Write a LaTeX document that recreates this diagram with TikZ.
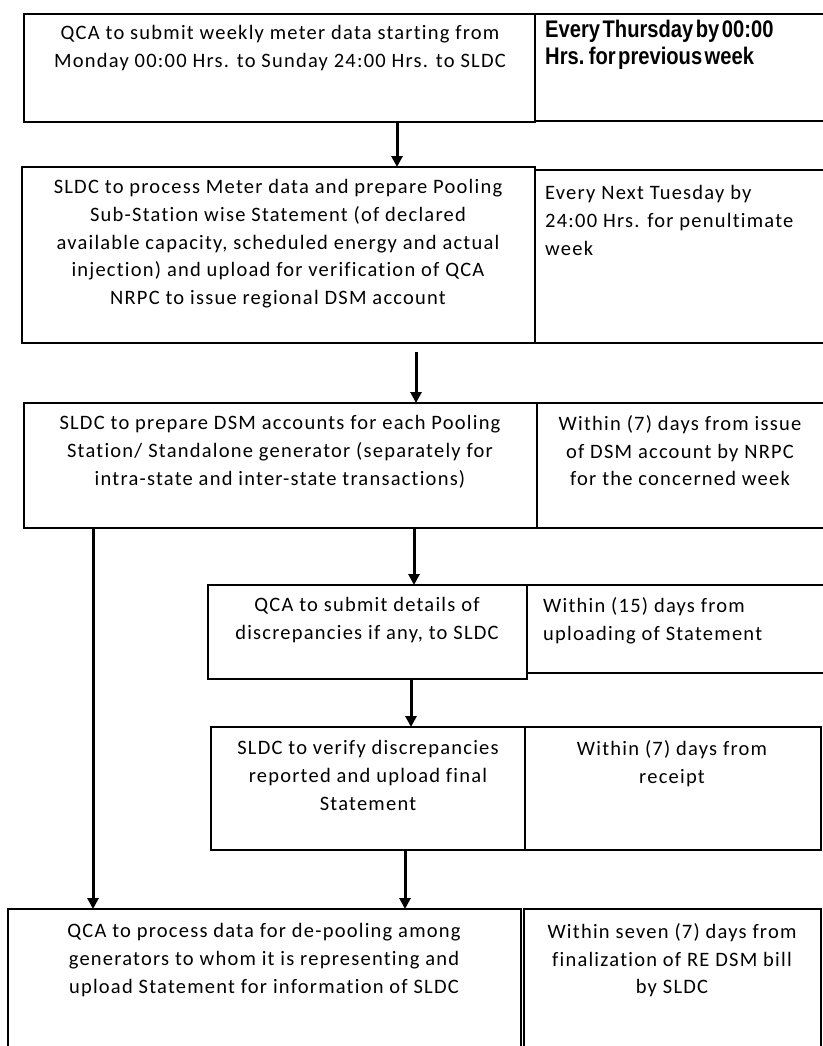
\documentclass[tikz,border=0pt]{standalone}
\usepackage{fontspec}
\setmainfont[LetterSpace=6,Ligatures=NoCommon]{Carlito}
\newfontfamily\narrowbold[FakeStretch=0.84,WordSpace=0.45]{Liberation Sans Bold}
\usetikzlibrary{arrows.meta}
\begin{document}
\begin{tikzpicture}[x=1pt,y=-1pt,
  box/.style={draw=black, line width=1.2pt, anchor=north west, inner sep=0pt, outer sep=0pt},
  txt/.style={anchor=north, align=center, inner sep=0pt, font=\fontsize{20.5}{27.8}\selectfont},
  ltxt/.style={anchor=north west, align=left, inner sep=0pt, font=\fontsize{20.5}{27.8}\selectfont},
  arr/.style={line width=3pt, -{Triangle[width=11pt,length=11pt]}}]
\useasboundingbox (0,0) rectangle (822,1046);
\fill[white] (0,0) rectangle (822,1046);
% row 1
\node[box, minimum width=511pt, minimum height=108pt] (b1) at (24,14) {};
\node[box, minimum width=290pt, minimum height=107pt] (r1) at (535,14) {};
\node[txt] (t1) at (280,25) {QCA to submit weekly meter data starting from\\Monday 00:00 Hrs. to Sunday 24:00 Hrs. to SLDC};
\node[ltxt, font=\narrowbold\fontsize{24}{26.5}\selectfont] (s1) at (545,20) {Every Thursday by 00:00\\Hrs. for previous week};
% row 2
\node[box, minimum width=513pt, minimum height=176pt] (b2) at (22,167) {};
\node[box, minimum width=290pt, minimum height=173pt] (r2) at (535,170) {};
\node[txt] (t2) at (278,179) {SLDC to process Meter data and prepare Pooling\\Sub-Station wise Statement (of declared\\available capacity, scheduled energy and actual\\injection) and upload for verification of QCA\\NRPC to issue regional DSM account};
\node[ltxt] (s2) at (545,185) {Every Next Tuesday by\\24:00 Hrs. for penultimate\\week};
% row 3
\node[box, minimum width=513pt, minimum height=125pt] (b3) at (24,403) {};
\node[box, minimum width=288pt, minimum height=125pt] (r3) at (537,403) {};
\node[txt] (t3) at (280,415) {SLDC to prepare DSM accounts for each Pooling\\Station/ Standalone generator (separately for\\intra-state and inter-state transactions)};
\node[txt] (s3) at (680,415) {Within (7) days from issue\\of DSM account by NRPC\\for the concerned week};
% row 4
\node[box, minimum width=319pt, minimum height=94pt] (b4) at (208,585) {};
\node[box, minimum width=298pt, minimum height=88pt] (r4) at (527,585) {};
\node[txt] (t4) at (367,597) {QCA to submit details of\\discrepancies if any, to SLDC};
\node[ltxt] (s4) at (543,597) {Within (15) days from\\uploading of Statement};
% row 5
\node[box, minimum width=314pt, minimum height=123pt] (b5) at (211,727) {};
\node[box, minimum width=296pt, minimum height=123pt] (r5) at (525,727) {};
\node[txt] (t5) at (368,740) {SLDC to verify discrepancies\\reported and upload final\\Statement};
\node[txt] (s5) at (672,740) {Within (7) days from\\receipt};
% row 6
\node[box, minimum width=513pt, minimum height=150pt] (b6) at (8,909) {};
\node[box, minimum width=297pt, minimum height=150pt] (r6) at (524,909) {};
\node[txt] (t6) at (264,923) {QCA to process data for de-pooling among\\generators to whom it is representing and\\upload Statement for information of SLDC};
\node[txt] (s6) at (672,923) {Within seven (7) days from\\finalization of RE DSM bill\\by SLDC};
% connectors
\coordinate (x1) at (397,0);
\coordinate (x2) at (416,0);
\coordinate (x3) at (414,0);
\coordinate (x4) at (411,0);
\coordinate (x5) at (405,0);
\coordinate (x6) at (93,0);
\draw[arr] (b1.south -| x1) -- (b2.north -| x1);
\draw[arr, shorten <=9pt] (b2.south -| x2) -- (b3.north -| x2);
\draw[arr] (b3.south -| x3) -- (b4.north -| x3);
\draw[arr] (b4.south -| x4) -- (b5.north -| x4);
\draw[arr] (b5.south -| x5) -- (b6.north -| x5);
\draw[arr] (b3.south -| x6) -- (b6.north -| x6);
\end{tikzpicture}
\end{document}
